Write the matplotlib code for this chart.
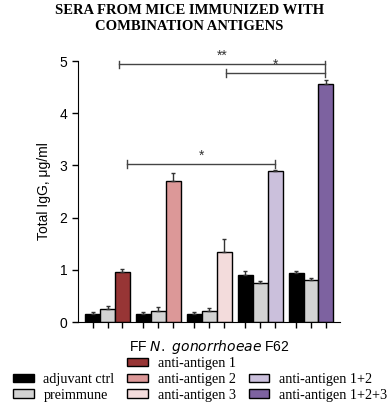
import matplotlib
matplotlib.use("Agg")
import matplotlib.pyplot as plt
from matplotlib.patches import Patch
import numpy as np

plt.rcParams["font.family"] = ["Liberation Sans", "DejaVu Sans"]

groups = ["anti-antigen 1", "anti-antigen 2", "anti-antigen 3", "anti-antigen 1+2", "anti-antigen 1+2+3"]
adjuvant = [0.16, 0.16, 0.16, 0.91, 0.93]
adjuvant_err = [0.04, 0.03, 0.03, 0.07, 0.05]
preimmune = [0.25, 0.22, 0.21, 0.75, 0.81]
preimmune_err = [0.06, 0.06, 0.05, 0.03, 0.03]
antigen = [0.95, 2.71, 1.34, 2.90, 4.56]
antigen_err = [0.07, 0.15, 0.25, 0.02, 0.08]
antigen_colors = ["#973535", "#dc9898", "#f3dcdc", "#cbc0dc", "#7d62a0"]
adj_color = "#000000"
pre_color = "#d3d3d3"

# significance brackets: (x_start, x_end, y, label)
brackets = [(0.22, 4.27, 4.94, "**"), (2.32, 4.27, 4.77, "*"), (0.39, 3.29, 3.03, "*")]

fig = plt.figure(figsize=(3.87, 4.09), dpi=100)
ax = fig.add_axes([0.2016, 0.2127, 0.677, 0.638])

w = 0.294
x = np.arange(len(groups))
ekw = dict(ecolor="#333333", elinewidth=1.0, capsize=1.5, capthick=1.0)
ax.bar(x - w, adjuvant, w, color=adj_color, edgecolor="black", linewidth=1.0)
ax.bar(x, preimmune, w, color=pre_color, edgecolor="black", linewidth=1.0)
ax.bar(x + w, antigen, w, color=antigen_colors, edgecolor="black", linewidth=1.0)
ax.errorbar(x - w, adjuvant, yerr=[np.zeros(5), adjuvant_err], fmt="none", **ekw)
ax.errorbar(x, preimmune, yerr=[np.zeros(5), preimmune_err], fmt="none", **ekw)
ax.errorbar(x + w, antigen, yerr=[np.zeros(5), antigen_err], fmt="none", **ekw)

for x0, x1, yb, lab in brackets:
    ax.plot([x0, x1], [yb, yb], color="#444444", lw=1.0, clip_on=False)
    ax.plot([x0, x0], [yb - 0.07, yb + 0.07], color="#444444", lw=1.0, clip_on=False)
    ax.plot([x1, x1], [yb - 0.07, yb + 0.07], color="#444444", lw=1.0, clip_on=False)
    ax.text((x0 + x1) / 2, yb + 0.02, lab, ha="center", va="bottom", fontsize=10, color="#333333")

ax.set_xlim(-0.58, 4.57)
ax.set_ylim(0, 5)
ax.set_yticks([0, 1, 2, 3, 4, 5])
ax.set_yticklabels(["0", "1", "2", "3", "4", "5"], fontsize=10)
ticks = np.concatenate([x - w, x, x + w])
ax.set_xticks(np.sort(ticks))
ax.set_xticklabels([])
ax.tick_params(axis="both", direction="out", length=4, width=1)
for s in ["top", "right"]:
    ax.spines[s].set_visible(False)
ax.set_ylabel("Total IgG, μg/ml", fontsize=10, labelpad=6)
ax.set_xlabel("FF $\\it{N.\\ gonorrhoeae}$ F62", fontsize=10, labelpad=4)

fig.text(0.49, 1 - 10 / 409, "SERA FROM MICE IMMUNIZED WITH", ha="center", va="center",
         fontsize=10.5, fontweight="bold", family="Liberation Serif")
fig.text(0.49, 1 - 27 / 409, "COMBINATION ANTIGENS", ha="center", va="center",
         fontsize=10.5, fontweight="bold", family="Liberation Serif")

blank = Patch(facecolor="none", edgecolor="none")
handles = [blank,
           Patch(facecolor=adj_color, edgecolor="black"),
           Patch(facecolor=pre_color, edgecolor="black")]
labels = ["", "adjuvant ctrl", "preimmune"]
for c, g in zip(antigen_colors[:3], groups[:3]):
    handles.append(Patch(facecolor=c, edgecolor="black"))
    labels.append(g)
handles.append(blank)
labels.append("")
for c, g in zip(antigen_colors[3:], groups[3:]):
    handles.append(Patch(facecolor=c, edgecolor="black"))
    labels.append(g)
fig.legend(handles, labels, ncol=3, loc="upper left", bbox_to_anchor=(13 / 387, 1 - 357 / 409),
           frameon=False, prop={"family": "Liberation Serif", "size": 10.2},
           handlelength=1.45, handleheight=0.55, columnspacing=0.9, handletextpad=0.7,
           labelspacing=0.2, borderpad=0, borderaxespad=0)

fig.savefig("out.png", dpi=100)
